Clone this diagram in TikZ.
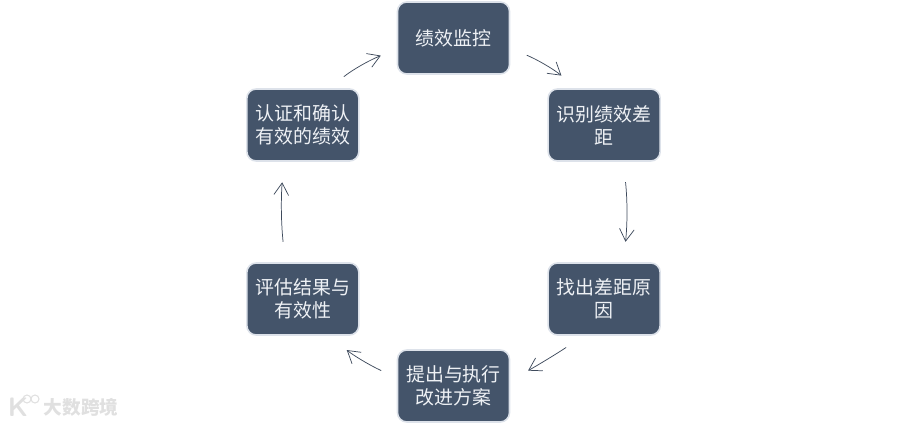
\documentclass[tikz,border=0pt]{standalone}
\usepackage{fontspec}
\setmainfont{Noto Sans CJK SC}
\usepackage{tikz}
\usetikzlibrary{positioning,arrows.meta}
\definecolor{boxfill}{HTML}{44546A}
\definecolor{boxedge}{HTML}{DDE2EA}
\definecolor{boxtext}{HTML}{EEF1F5}
\definecolor{flowline}{HTML}{3E4A5C}
\definecolor{markgray}{HTML}{E0E0E0}
\tikzset{
  every node/.style={
    font=\fontsize{14.2pt}{17.25pt}\selectfont
  },
  stagebox/.style={
    shape=rectangle,
    rounded corners=7pt,
    minimum width=84pt,
    minimum height=54pt,
    inner sep=0pt,
    outer sep=0pt,
    align=center,
    draw=boxedge,
    line width=1.2pt,
    fill=boxfill,
    text=boxtext
  },
  flow/.style={
    draw=flowline,
    line width=0.55pt,
    -{Straight Barb[length=9pt,width=11pt,line width=0.55pt]}
  },
  watermark/.style={
    text=markgray,
    inner sep=0pt
  }
}
\begin{document}
\begin{tikzpicture}[x=0.75pt,y=-0.75pt]

\useasboundingbox (0,0) rectangle (907,424);

\node [stagebox] (monitor) at (453.5,38) {绩效监控};
\node [stagebox, below right=11.25pt and 29pt of monitor] (identify) {识别绩效差\\距};
\node [stagebox, below=76.5pt of identify] (cause) {找出差距原\\因};
\node [stagebox, below left=11.25pt and 29pt of cause] (improve) {提出与执行\\改进方案};
\node [stagebox, above left=11.25pt and 29pt of improve] (evaluate) {评估结果与\\有效性};
\node [stagebox, above=76.5pt of evaluate] (confirm) {认证和确认\\有效的绩效};

% arrows stop short of the boxes
\draw [flow, shorten <=15pt, shorten >=13.5pt] (confirm.55) to [bend left=8] (monitor.191);
\draw [flow, shorten <=14pt, shorten >=16pt] (monitor.-10) to [bend left=8] (identify.126);
\draw [flow, shorten <=16pt, shorten >=16pt] (identify.-62) to [bend left=6] (cause.62);
\draw [flow, shorten <=17pt, shorten >=16pt] (cause.242) to [bend left=2] (improve.5);
\draw [flow, shorten <=13.5pt, shorten >=18pt] (improve.172) to [bend left=7] (evaluate.-55);
\draw [flow, shorten <=16pt, shorten >=16pt] (evaluate.116) to [bend left=5] (confirm.242);

% watermark
\node [watermark, font=\fontsize{14pt}{14pt}\bfseries\selectfont] (brand) at (81,407) {大数跨境};
\node [watermark, font=\fontsize{20pt}{20pt}\sffamily\bfseries\selectfont] (brandk) at (18,407) {K};
\node [draw=markgray, line width=0.8pt, circle, minimum size=6pt, inner sep=0pt] (ringa) at (27,399) {};
\node [draw=markgray, line width=0.8pt, circle, minimum size=6pt, inner sep=0pt] (ringb) at (35,399) {};

\end{tikzpicture}
\end{document}
